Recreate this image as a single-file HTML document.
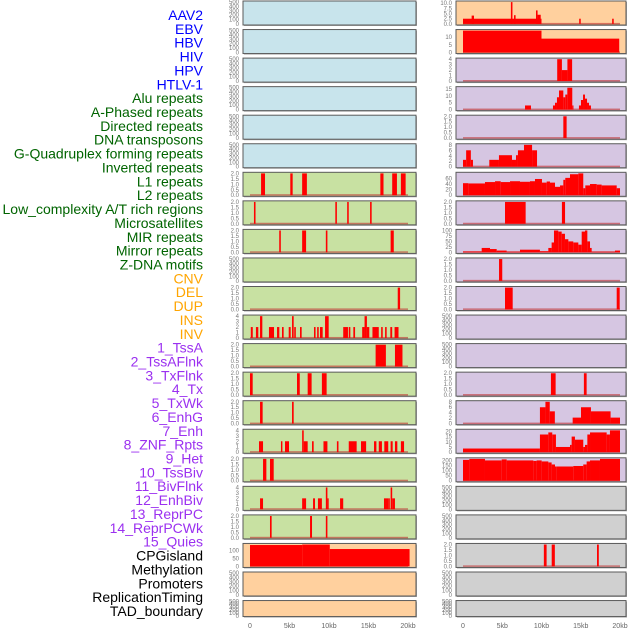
<!DOCTYPE html>
<html><head><meta charset="utf-8"><style>
body{margin:0;background:#fff;width:630px;height:630px;overflow:hidden}
svg{display:block;font-family:"Liberation Sans",sans-serif}
</style></head><body>
<svg id="c" width="630" height="630"></svg>
<script>
const labels=["AAV2","EBV","HBV","HIV","HPV","HTLV-1","Alu repeats","A-Phased repeats","Directed repeats","DNA transposons","G-Quadruplex forming repeats","Inverted repeats","L1 repeats","L2 repeats","Low_complexity A/T rich regions","Microsatellites","MIR repeats","Mirror repeats","Z-DNA motifs","CNV","DEL","DUP","INS","INV","1_TssA","2_TssAFlnk","3_TxFlnk","4_Tx","5_TxWk","6_EnhG","7_Enh","8_ZNF_Rpts","9_Het","10_TssBiv","11_BivFlnk","12_EnhBiv","13_ReprPC","14_ReprPCWk","15_Quies","CPGisland","Methylation","Promoters","ReplicationTiming","TAD_boundary"];
const labelColors=["#0000ff","#0000ff","#0000ff","#0000ff","#0000ff","#0000ff","#006400","#006400","#006400","#006400","#006400","#006400","#006400","#006400","#006400","#006400","#006400","#006400","#006400","#ffa500","#ffa500","#ffa500","#ffa500","#ffa500","#9b30f0","#9b30f0","#9b30f0","#9b30f0","#9b30f0","#9b30f0","#9b30f0","#9b30f0","#9b30f0","#9b30f0","#9b30f0","#9b30f0","#9b30f0","#9b30f0","#9b30f0","#000","#000","#000","#000","#000"];
const xTicks=[0,5,10,15,20];
const xTickLabels=["0","5kb","10kb","15kb","20kb"];
const tEmpty=["0","100","200","300","400","500"];
const t2=["0.0","0.5","1.0","1.5","2.0"];
const t4=["0","1","2","3","4"];
// segments: [startKb, endKb, value]
const L_alu=[[1.4,1.9,2],[5.1,5.4,2],[6.6,7.2,2],[16.5,16.9,2],[18.0,18.6,2],[19.1,19.7,2]];
const L_aphased=[[0.5,0.7,2],[10.8,11.0,2],[12.3,12.5,2],[15.2,15.4,2]];
const L_directed=[[3.7,3.9,2],[6.6,7.1,2],[9.6,9.8,2],[17.8,18.2,2]];
const L_gquad=[[18.7,19.0,2]];
const L_inverted=[[0.1,0.35,2],[0.75,1.05,2],[1.27,1.56,4],[2.4,3.04,2],[3.42,3.71,2],[4.05,4.26,2],[4.9,5.15,2],[5.32,5.53,4],[5.6,5.8,2],[6.33,6.54,2],[8.1,8.3,2],[8.5,8.7,2],[8.86,9.2,2],[9.5,9.96,4],[11.8,12.4,2],[12.5,12.7,2],[13.08,13.3,2],[14.2,14.5,2],[14.5,14.8,4],[14.8,15.1,2],[15.5,16.3,2],[16.6,16.8,2],[17.1,17.3,2],[17.76,18.0,2],[18.3,18.8,2]];
const L_l1=[[15.9,17.2,2],[18.35,19.3,2]];
const L_l2=[[0,0.34,2],[5.95,6.3,2],[7.3,7.8,2],[9.1,9.7,2]];
const L_lowc=[[1.27,1.6,2],[5.32,5.53,2]];
const L_micro=[[1.14,1.65,2],[3.92,4.1,2],[4.43,4.94,2],[6.6,6.8,4],[6.8,7.3,2],[7.85,8.06,2],[9.3,9.8,2],[11.0,11.2,2],[12.5,13.5,2],[14.05,14.7,2],[15.7,16.0,2],[16.3,16.7,2],[17.0,17.5,2],[17.8,18.06,2],[18.35,18.65,2],[19.1,19.5,2]];
const L_mir=[[1.65,2.07,2],[2.53,3.0,2]];
const L_mirror=[[1.27,1.65,2],[6.6,7.1,2],[7.98,8.23,2],[8.6,9.1,2],[9.6,9.8,4],[9.8,9.96,2],[11.4,11.8,2],[16.96,17.5,2],[17.5,17.7,2],[17.8,18.0,4],[18.0,18.35,2]];
const L_zdna=[[2.53,2.74,2],[7.6,7.85,2],[9.6,9.8,2]];
const L_cnv=[[0,6.6,133],[6.6,10.1,136],[10.1,20.2,108]];
const R_ins=[[0,10,2.5],[1.1,1.4,4],[6.1,6.3,10.5],[6.5,6.7,4.2],[9.3,9.5,6.5],[9.5,9.9,4.4],[14.8,15.0,2.5],[19.0,19.2,2.5]];
const R_inv=[[0,10,14.2],[10,19.9,9]];
const R_tssa=[[12.0,12.6,4],[12.6,13.3,2],[13.3,13.9,4]];
const R_tssaf=[[7.9,8.66,3],[11.46,11.72,3],[11.72,11.97,5],[11.97,12.23,9],[12.23,12.78,14],[12.78,13.03,9],[13.03,13.29,11],[13.29,13.92,16],[13.92,14.05,3],[14.77,15.03,3],[15.03,15.29,7],[15.29,15.54,11],[15.54,15.8,8],[15.8,16.05,5],[16.05,16.3,3]];
const R_txflnk=[[12.78,13.2,2]];
const R_tx=[[0,0.4,2.5],[0.4,1.0,6],[1.0,1.27,2.5],[3.35,4.58,2.5],[4.58,6.24,4.2],[6.24,6.75,2.5],[6.75,7.0,4.2],[7.0,7.77,6],[7.77,8.8,8],[8.8,9.43,6]];
const R_txwk=[[0,0.68,43],[0.68,2.8,42],[2.8,4.08,47],[4.08,4.8,50],[4.8,5.99,47],[5.99,7.26,50],[7.26,8.53,48],[8.53,9.17,50],[9.17,10.06,58],[10.06,10.66,45],[10.66,11.08,49],[11.08,11.72,45],[11.72,12.36,30],[12.36,12.78,35],[12.78,13.03,55],[13.03,13.63,62],[13.63,14.69,75],[14.69,15.32,78],[15.32,15.58,25],[15.58,16.18,35],[16.18,17.03,40],[17.03,17.66,38],[17.66,19.58,35],[19.58,20.0,25]];
const R_enhg=[[5.35,7.98,2],[12.6,13.0,2]];
const R_enh=[[0,2.38,4],[2.38,3.44,20],[3.44,4.29,15],[4.29,5.56,8],[5.56,7.26,3],[7.26,9.8,12],[9.8,10.87,5],[10.87,11.29,20],[11.29,11.59,45],[11.59,12.14,100],[12.14,12.57,95],[12.57,12.99,85],[12.99,13.42,60],[13.42,14.05,50],[14.05,14.69,45],[14.69,15.12,35],[15.12,15.54,95],[15.54,15.84,100],[15.84,16.18,50],[16.18,16.39,20],[16.39,19.36,3],[19.36,20.0,8]];
const R_znf=[[4.59,5.0,2]];
const R_het=[[5.35,6.33,2],[19.58,19.96,2]];
const R_bivflnk=[[11.2,11.8,2],[15.4,15.75,2]];
const R_enhbiv=[[9.8,10.5,6],[10.5,11.05,8],[11.05,11.7,4.5],[13.97,15.03,2.2],[15.03,16.3,6],[16.3,18.8,4.5],[18.8,20.0,2.2]];
const R_reprpc=[[0,9.8,3.5],[9.8,10.87,17],[10.87,11.37,19],[11.37,11.84,17],[11.84,13.63,5],[13.63,13.84,7],[13.84,14.26,15],[14.26,15.32,12],[15.32,15.54,5],[15.54,15.84,7],[15.84,16.18,17],[16.18,18.3,19],[18.3,18.72,17],[18.72,20.0,21]];
const R_reprpcwk=[[0,0.81,205],[0.81,2.8,215],[2.8,4.93,200],[4.93,5.56,210],[5.56,8.96,200],[8.96,9.38,195],[9.38,10.02,200],[10.02,10.87,190],[10.87,11.29,180],[11.29,11.72,160],[11.72,11.93,140],[11.93,14.05,140],[14.05,15.32,145],[15.32,15.75,160],[15.75,16.18,190],[16.18,17.45,200],[17.45,20.0,215]];
const R_promoters=[[10.3,10.65,2],[11.3,11.7,2],[17.07,17.3,2]];
const BLUE="#c8e4ec",GREEN="#c8e1a2",ORANGE="#ffd09e",PURPLE="#d6c6e2",GRAY="#d0d0d0";
const leftCol=[[null,tEmpty,BLUE],[null,tEmpty,BLUE],[null,tEmpty,BLUE],[null,tEmpty,BLUE],[null,tEmpty,BLUE],[null,tEmpty,BLUE],
[L_alu,t2,GREEN],[L_aphased,t2,GREEN],[L_directed,t2,GREEN],[null,tEmpty,GREEN],[L_gquad,t2,GREEN],[L_inverted,t4,GREEN],[L_l1,t2,GREEN],[L_l2,t2,GREEN],[L_lowc,t2,GREEN],[L_micro,t4,GREEN],[L_mir,t2,GREEN],[L_mirror,t4,GREEN],[L_zdna,t2,GREEN],
[L_cnv,["0","50","100"],ORANGE],[null,tEmpty,ORANGE],[null,tEmpty,ORANGE]];
const rightCol=[[R_ins,["0.0","2.5","5.0","7.5","10.0"],ORANGE],[R_inv,["0","5","10"],ORANGE],
[R_tssa,t4,PURPLE],[R_tssaf,["0","5","10","15"],PURPLE],[R_txflnk,t2,PURPLE],[R_tx,["0","2","4","6","8"],PURPLE],[R_txwk,["0","20","40","60"],PURPLE],[R_enhg,t2,PURPLE],[R_enh,["0","25","50","75","100"],PURPLE],[R_znf,t2,PURPLE],[R_het,t2,PURPLE],[null,tEmpty,PURPLE],[null,tEmpty,PURPLE],[R_bivflnk,t2,PURPLE],[R_enhbiv,["0","2","4","6","8"],PURPLE],[R_reprpc,["0","5","10","15","20"],PURPLE],[R_reprpcwk,["0","50","100","150","200"],PURPLE],
[null,tEmpty,GRAY],[null,tEmpty,GRAY],[R_promoters,t2,GRAY],[null,tEmpty,GRAY],[null,tEmpty,GRAY]];
const NS="http://www.w3.org/2000/svg";
const svg=document.getElementById("c");
function mk(t,a,p){const e=document.createElementNS(NS,t);for(const k in a)e.setAttribute(k,a[k]);(p||svg).appendChild(e);return e;}
// labels
labels.forEach((l,i)=>{
  const t=mk("text",{x:203,y:15+i*13.86+5,"text-anchor":"end","font-size":"14",fill:labelColors[i]});
  
  
  t.textContent=l;
});
function drawCol(col,x0,x1,d0,d20,name){
  const xs=kb=>d0+(d20-d0)*kb/20;
  col.forEach((tr,i)=>{
    const [segs,ticks,bg]=tr;
    const top=1+i*28.55, h=(i==21)?16:24;
    const g=mk("g",{});
    
    
    mk("rect",{x:x0+1,y:top+1,width:x1-x0,height:h,fill:"#aaa"},g);
    mk("rect",{x:x0,y:top,width:x1-x0,height:h,fill:bg,stroke:"#5a5a5a","stroke-width":1},g);
    const tv=ticks.map(Number);
    let M=Math.max(...tv);
    if(segs) segs.forEach(s=>{M=Math.max(M,s[2]);});
    const lo=-0.05*M,hi=1.05*M;
    const ys=v=>top+h-(v-lo)/(hi-lo)*h;
    ticks.forEach((tl,k)=>{
      const t=mk("text",{x:x0-4,y:ys(tv[k])+2,"text-anchor":"end","font-size":"6",fill:"#777"},g);
      
      
      t.textContent=tl;
    });
    if(segs){
      mk("rect",{x:xs(0),y:ys(0)-1,width:xs(20)-xs(0),height:1.5,fill:"#c03030",opacity:0.6},g);
      segs.forEach(s=>{
        const r=mk("rect",{x:xs(s[0]),y:ys(s[2]),width:Math.max(1.2,xs(s[1])-xs(s[0])),height:ys(0)-ys(s[2]),fill:"#ff0000"},g);
        
        
      });
    }
  });
  xTicks.forEach((v,k)=>{
    const t=mk("text",{x:xs(v),y:628,"text-anchor":"middle","font-size":"7",fill:"#666"});
    
    
    t.textContent=xTickLabels[k];
  });
}
drawCol(leftCol,243,416,250,408,'left');
drawCol(rightCol,456,626,463,620,'right');
</script>
</body></html>
